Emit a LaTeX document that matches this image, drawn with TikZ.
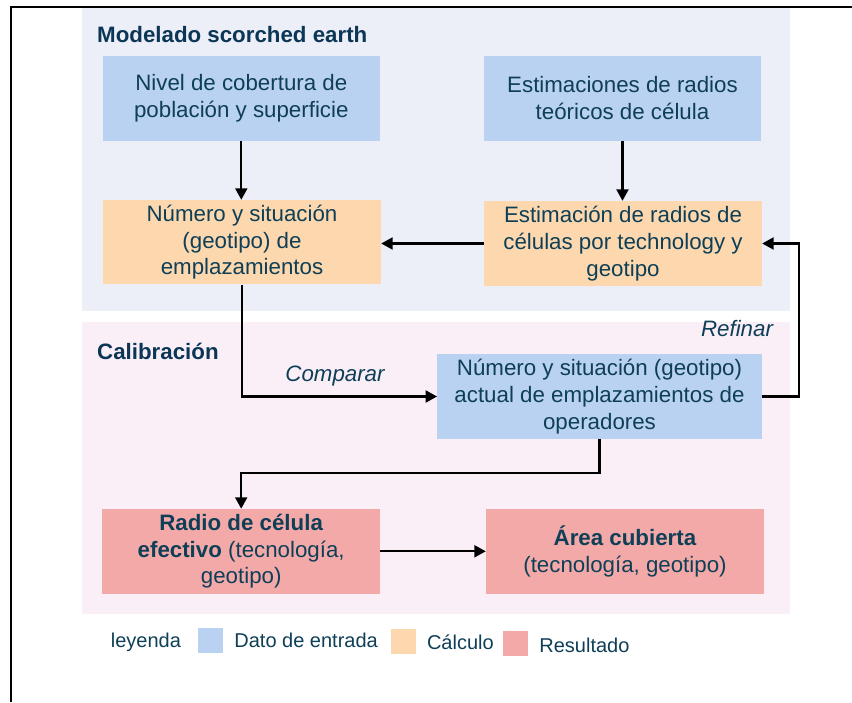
\documentclass[tikz,border=0pt]{standalone}
\usepackage{fontspec}
\setmainfont{Liberation Sans}
\usetikzlibrary{arrows.meta}
\definecolor{txt}{HTML}{0E3F57}
\definecolor{ttl}{HTML}{0C3656}
\definecolor{inblue}{HTML}{B9D2F1}
\definecolor{calcor}{HTML}{FDD7AE}
\definecolor{resred}{HTML}{F4A9A9}
\definecolor{topbg}{HTML}{ECEEF8}
\definecolor{pinkbg}{HTML}{FBEFF7}
\tikzset{
  box/.style={rectangle, inner sep=2pt, align=center, text=txt,
    font=\fontsize{22.3}{26.8}\selectfont},
  inbox/.style={box, fill=inblue},
  calcbox/.style={box, fill=calcor},
  resbox/.style={box, fill=resred},
  conn/.style={draw=black, line width=2.2pt, line join=miter,
    -{Triangle[length=11.5pt,width=12pt]}},
  lbl/.style={text=txt, font=\fontsize{22.3}{26.8}\selectfont\itshape, inner sep=0pt},
  ttlstyle/.style={text=ttl, font=\fontsize{22.3}{26.8}\selectfont\bfseries, inner sep=0pt, anchor=west},
  legtxt/.style={text=txt, font=\fontsize{20}{24}\selectfont, inner sep=0pt, anchor=base west},
}
\begin{document}
\begin{tikzpicture}[x=1pt,y=-1pt]
\useasboundingbox (0,0) rectangle (852,702);
% backgrounds
\fill[topbg] (82,8) rectangle (790,311);
\fill[pinkbg] (82,322) rectangle (790,614);
% frame
\draw[line width=2pt, line join=miter] (11,702) -- (11,6.5) -- (852,6.5);
% titles
\node[ttlstyle] (t1) at (97,35) {Modelado scorched earth};
\node[ttlstyle] (t2) at (97,351) {Calibración};
% boxes
\node[inbox, minimum width=277.5pt, minimum height=84.5pt] (A) at (241.3,98.3)
  {Nivel de cobertura de\\población y superficie};
\node[inbox, minimum width=277pt, minimum height=84.5pt] (B) at (622.5,98.3)
  {Estimaciones de radios\\teóricos de célula};
\node[calcbox, minimum width=278pt, minimum height=84.5pt] (C) at (242,242.2)
  {Número y situación\\(geotipo) de\\emplazamientos};
\node[calcbox, minimum width=278pt, minimum height=85pt] (D) at (623,243.5)
  {Estimación de radios de\\células por technology y\\geotipo};
\node[inbox, minimum width=324.4pt, minimum height=84.4pt] (E) at (599.5,396.5)
  {Número y situación (geotipo)\\actual de emplazamientos de\\operadores};
\node[resbox, minimum width=277.7pt, minimum height=84.7pt] (F) at (241.2,551.3)
  {\textbf{Radio de célula}\\\textbf{efectivo} (tecnología,\\geotipo)};
\node[resbox, minimum width=278pt, minimum height=84.7pt] (G) at (625,551.3)
  {\textbf{Área cubierta}\\(tecnología, geotipo)};
% connector helpers
\coordinate (rt) at (799,0);
\coordinate (turn) at (0,473);
% connectors
\draw[conn] (A.south) -- (A.south |- C.north);
\draw[conn] (B.south) -- (B.south |- D.north);
\draw[conn] (D.west) -- (D.west -| C.east);
\draw[conn] (C.south) |- (E.west);
\draw[conn] (E.east) -- (E.east -| rt) |- (D.east);
\draw[conn] (E.south) -- (E.south |- turn) -| (F.north);
\draw[conn] (F.east) -- (F.east -| G.west);
% labels
\node[lbl] (cmp) at (335,375.7) {Comparar};
\node[lbl] (ref) at (737,328.3) {Refinar};
% legend
\node[legtxt] (ley) at (110.7,647) {leyenda};
\fill[inblue] (198,627.8) rectangle (223.1,653);
\node[legtxt] (l1) at (234.2,647) {Dato de entrada};
\fill[calcor] (391.2,629) rectangle (416,654.3);
\node[legtxt] (l2) at (426.8,649.3) {Cálculo};
\fill[resred] (503,631.2) rectangle (527.8,656);
\node[legtxt] (l3) at (539.2,652) {Resultado};
\end{tikzpicture}
\end{document}
